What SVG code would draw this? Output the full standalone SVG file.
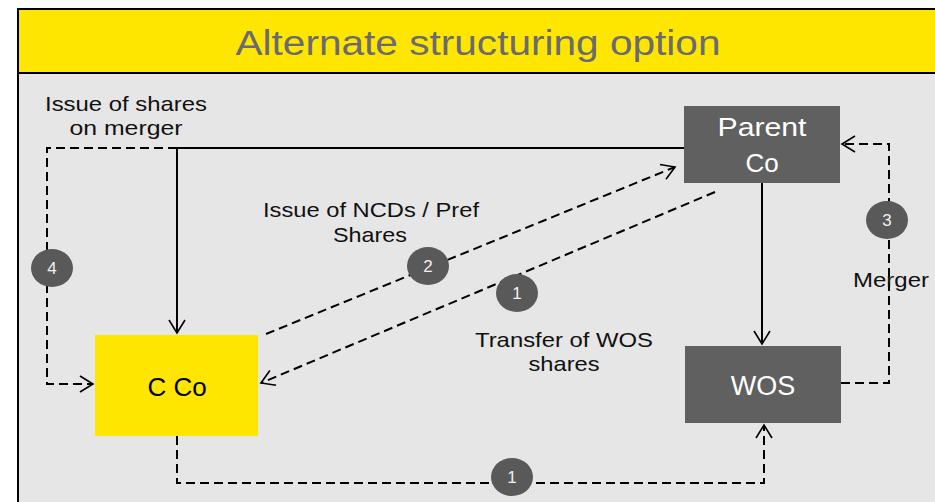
<svg xmlns="http://www.w3.org/2000/svg" width="935" height="502" viewBox="0 0 935 502">
<defs>
<marker id="arr" markerUnits="userSpaceOnUse" markerWidth="18" markerHeight="20" refX="14" refY="9" orient="auto" overflow="visible">
<path d="M1,1 L14,9 L1,17" fill="none" stroke="#000" stroke-width="1.6"/>
</marker>
<style>
.t{font-family:"Liberation Sans",Arial,sans-serif;}
.lbl{font-size:21px;fill:#111;}
.num{font-size:17px;fill:#f0f0f0;text-anchor:middle;}
.solid{fill:none;stroke:#000;stroke-width:2;}
.dash{fill:none;stroke:#000;stroke-width:2;stroke-dasharray:9 5;}
.badge{fill:#595959;}
</style>
</defs>
<rect x="0" y="0" width="935" height="502" fill="#ffffff"/>
<rect x="18" y="9" width="930" height="500" fill="#e6e6e6" stroke="#000" stroke-width="2"/>
<rect x="18" y="9" width="930" height="64" fill="#ffe600" stroke="#000" stroke-width="2"/>
<text class="t" x="478" y="55" font-size="35" fill="#6a6a72" text-anchor="middle" textLength="485" lengthAdjust="spacingAndGlyphs">Alternate structuring option</text>

<g id="connectors">
<polyline class="solid" points="684,148 177,148 177,333" marker-end="url(#arr)"/>
<polyline class="dash" points="177,148 47,148 47,384 93,384" marker-end="url(#arr)"/>
<line class="solid" x1="762" y1="183" x2="762" y2="344" marker-end="url(#arr)"/>
<polyline class="dash" points="841,383 889,383 889,144 842,144" marker-end="url(#arr)"/>
<polyline class="dash" points="177,436 177,483 764,483 764,425" marker-end="url(#arr)"/>
<line class="dash" x1="266" y1="334" x2="675" y2="167" marker-end="url(#arr)"/>
<line class="dash" x1="715" y1="192" x2="261" y2="383" marker-end="url(#arr)"/>
</g>

<g id="badge4"><ellipse class="badge" cx="52" cy="268" rx="21" ry="19"/><text class="t num" x="52" y="274">4</text></g>
<g id="badge3"><ellipse class="badge" cx="887" cy="220" rx="21" ry="19"/><text class="t num" x="887" y="226">3</text></g>
<g id="badge2"><ellipse class="badge" cx="428" cy="266" rx="21" ry="19"/><text class="t num" x="428" y="272">2</text></g>
<g id="badge1a"><ellipse class="badge" cx="517" cy="293" rx="21" ry="19"/><text class="t num" x="517" y="299">1</text></g>
<g id="badge1b"><ellipse class="badge" cx="512" cy="477" rx="21" ry="19"/><text class="t num" x="512" y="483">1</text></g>

<g id="parent-co">
<rect x="684" y="106" width="156" height="77" fill="#606060"/>
<text class="t" x="762" y="136" font-size="26" fill="#ffffff" text-anchor="middle" textLength="89" lengthAdjust="spacingAndGlyphs">Parent</text>
<text class="t" x="762" y="172" font-size="26" fill="#ffffff" text-anchor="middle">Co</text>
</g>
<g id="wos">
<rect x="685" y="346" width="156" height="77" fill="#606060"/>
<text class="t" x="763" y="395" font-size="27" fill="#ffffff" text-anchor="middle">WOS</text>
</g>
<g id="c-co">
<rect x="95" y="335" width="163" height="101" fill="#ffe600"/>
<text class="t" x="177" y="396" font-size="26" fill="#000" text-anchor="middle">C Co</text>
</g>

<g id="labels">
<text class="t lbl" x="126" y="111" text-anchor="middle" textLength="162" lengthAdjust="spacingAndGlyphs">Issue of shares</text>
<text class="t lbl" x="126" y="135" text-anchor="middle" textLength="113" lengthAdjust="spacingAndGlyphs">on merger</text>
<text class="t lbl" x="371" y="217" text-anchor="middle" textLength="216" lengthAdjust="spacingAndGlyphs">Issue of NCDs / Pref</text>
<text class="t lbl" x="370" y="242" text-anchor="middle" textLength="74" lengthAdjust="spacingAndGlyphs">Shares</text>
<text class="t lbl" x="564" y="347" text-anchor="middle" textLength="178" lengthAdjust="spacingAndGlyphs">Transfer of WOS</text>
<text class="t lbl" x="564" y="371" text-anchor="middle" textLength="71" lengthAdjust="spacingAndGlyphs">shares</text>
<text class="t lbl" x="891" y="287" text-anchor="middle" textLength="76" lengthAdjust="spacingAndGlyphs">Merger</text>
</g>
</svg>
